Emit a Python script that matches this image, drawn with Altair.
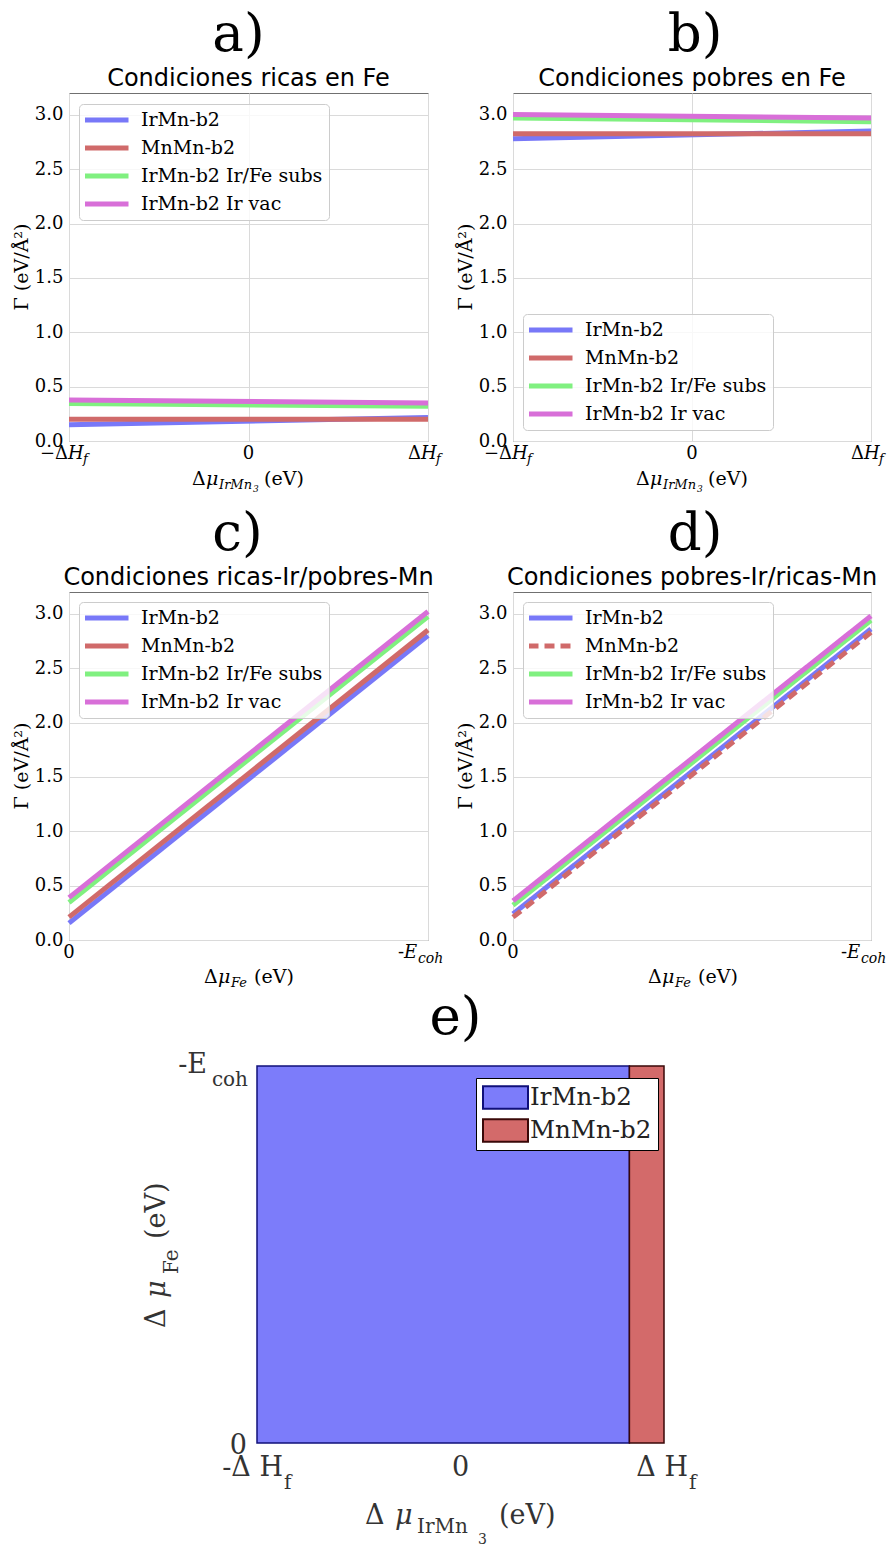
import altair as alt
import pandas as pd

SERIF = "DejaVu Serif"
SANS = "DejaVu Sans"

# ---------------- data ----------------
series = ["IrMn-b2", "MnMn-b2", "IrMn-b2 Ir/Fe subs", "IrMn-b2 Ir vac"]
line_colors = ["#7878f8", "#d06a6a", "#80f080", "#d86fd8"]
y_ticks = [0.0, 0.5, 1.0, 1.5, 2.0, 2.5, 3.0]

ab_x = [-1.0, 1.0]   # -ΔHf .. ΔHf
cd_x = [0.0, 1.0]    # 0 .. -Ecoh

a_left = [0.15, 0.20, 0.345, 0.378]
a_right = [0.215, 0.20, 0.32, 0.35]
b_left = [2.78, 2.826, 2.97, 3.003]
b_right = [2.85, 2.826, 2.936, 2.97]
c_left = [0.155, 0.21, 0.345, 0.39]
c_right = [2.80, 2.85, 2.975, 3.02]
d_left = [0.24, 0.21, 0.32, 0.36]
d_right = [2.86, 2.83, 2.94, 2.98]

phases = ["IrMn-b2", "MnMn-b2"]
phase_fill = ["#7c7cfa", "#d36a6a"]
phase_edge = ["#10107a", "#3a0808"]
phase_x_from = [-1.0, 0.83]
phase_x_to = [0.83, 1.0]
phase_y_from = [0.0, 0.0]
phase_y_to = [1.0, 1.0]

ONE = pd.DataFrame({"k": [0]})
W, H = 359, 348
EW, EH = 407, 377


def txt(text, x, y, size, font=SERIF, align="center", baseline="alphabetic",
        italic=False, angle=0, color="black", dx=0):
    mk = dict(text=text, font=font, fontSize=size, align=align, baseline=baseline,
              color=color, dx=dx)
    if italic:
        mk["fontStyle"] = "italic"
    if angle:
        mk["angle"] = angle
    return alt.Chart(ONE).mark_text(**mk).encode(x=x, y=y)


def line_panel(letter, letter_dx, title, xs, left, right, lx, ly, dashed, kind, width):
    rows = []
    for s, y0, y1 in zip(series, left, right):
        rows.append({"serie": s, "x": xs[0], "g": y0})
        rows.append({"serie": s, "x": xs[1], "g": y1})
    df = pd.DataFrame(rows)
    leg = alt.Legend(title=None, orient="none", legendX=lx, legendY=ly,
                     symbolType="stroke", symbolSize=1936, symbolStrokeWidth=5,
                     symbolOffset=-3, clipHeight=20, rowPadding=8, padding=6,
                     labelFont=SERIF, labelFontSize=19, labelColor="black",
                     labelOffset=10, labelLimit=400,
                     strokeColor="#cccccc", fillColor="rgba(255,255,255,0.8)",
                     cornerRadius=4)
    enc = dict(
        x=alt.X("x:Q", scale=alt.Scale(domain=xs, nice=False, zero=False),
                axis=alt.Axis(values=[xs[0], (xs[0] + xs[1]) / 2 if kind == "H" else xs[0], xs[1]],
                              labels=False, ticks=False, domain=False, title=None,
                              grid=True, gridColor="#dadada")),
        y=alt.Y("g:Q", scale=alt.Scale(domain=[0, 3.2], nice=False, zero=True),
                axis=alt.Axis(values=y_ticks, format=".1f", labelFont=SERIF,
                              labelFontSize=18, labelColor="black", ticks=False,
                              tickSize=0, labelPadding=6, domain=False, title=None,
                              grid=True, gridColor="#dadada")),
        color=alt.Color("serie:N", scale=alt.Scale(domain=series, range=line_colors),
                        sort=series, legend=leg),
    )
    if dashed:
        enc["strokeDash"] = alt.StrokeDash(
            "serie:N", sort=series,
            scale=alt.Scale(domain=series, range=[[1, 0], [10, 6], [1, 0], [1, 0]]),
            legend=leg)
    lines = alt.Chart(df).mark_line(strokeWidth=5, strokeCap="butt").encode(**enc)

    layers = [lines]
    layers.append(txt(letter, alt.value(width / 2), alt.value(-42), 53, dx=letter_dx))
    layers.append(txt(title, alt.value(width / 2), alt.value(-7), 24, font=SANS))
    layers.append(txt("Γ (eV/Å²)", alt.value(-47), alt.value(H / 2), 19,
                      baseline="middle", angle=270))
    ty = H + 18
    if kind == "H":
        layers += [
            txt("−Δ", alt.datum(xs[0]), alt.value(ty), 18, align="right", dx=-1),
            txt("H", alt.datum(xs[0]), alt.value(ty), 18, align="left", italic=True, dx=-1),
            txt("f", alt.datum(xs[0]), alt.value(ty + 4), 13, align="left", italic=True, dx=14),
            txt("0", alt.datum(0.0), alt.value(ty), 18),
            txt("Δ", alt.datum(xs[1]), alt.value(ty), 18, align="right", dx=-7),
            txt("H", alt.datum(xs[1]), alt.value(ty), 18, align="left", italic=True, dx=-7),
            txt("f", alt.datum(xs[1]), alt.value(ty + 4), 13, align="left", italic=True, dx=8),
            txt("Δ", alt.value(123), alt.value(H + 44), 19, align="left"),
            txt("μ", alt.value(137), alt.value(H + 44), 19, align="left", italic=True),
            txt("IrMn", alt.value(150), alt.value(H + 48), 13, align="left", italic=True),
            txt("3", alt.value(184), alt.value(H + 51), 9, align="left", italic=True),
            txt("(eV)", alt.value(195), alt.value(H + 44), 19, align="left"),
        ]
    else:
        layers += [
            txt("0", alt.datum(xs[0]), alt.value(ty), 18),
            txt("-", alt.datum(xs[1]), alt.value(ty), 18, align="right", dx=-24),
            txt("E", alt.datum(xs[1]), alt.value(ty), 18, align="left", italic=True, dx=-24),
            txt("coh", alt.datum(xs[1]), alt.value(ty + 5), 14, align="left", italic=True, dx=-10),
            txt("Δ", alt.value(135), alt.value(H + 43), 19, align="left"),
            txt("μ", alt.value(149), alt.value(H + 43), 19, align="left", italic=True),
            txt("Fe", alt.value(162), alt.value(H + 47), 13, align="left", italic=True),
            txt("(eV)", alt.value(185), alt.value(H + 43), 19, align="left"),
        ]
    return alt.layer(*layers).properties(width=width, height=H)


pa = line_panel("a)", -10, "Condiciones ricas en Fe", ab_x, a_left, a_right, 10, 11, False, "H", 359)
pb = line_panel("b)", 3, "Condiciones pobres en Fe", ab_x, b_left, b_right, 10, 221, False, "H", 358)
pc = line_panel("c)", -11, "Condiciones ricas-Ir/pobres-Mn", cd_x, c_left, c_right, 10, 10, False, "E", 359)
pd_ = line_panel("d)", 3, "Condiciones pobres-Ir/ricas-Mn", cd_x, d_left, d_right, 10, 10, True, "E", 358)

# ---------------- panel e ----------------
edf = pd.DataFrame({"fase": phases, "x0": phase_x_from, "x1": phase_x_to,
                    "y0": phase_y_from, "y1": phase_y_to})
eleg = alt.Legend(title=None, orient="none", legendX=219, legendY=12,
                  symbolType="M-1,-0.5H1V0.5H-1Z", symbolSize=2025, symbolStrokeWidth=2,
                  clipHeight=27, rowPadding=6, padding=6, labelFont=SERIF,
                  labelFontSize=24.5, labelColor="#222222", labelOffset=1,
                  strokeColor="black", fillColor="white", cornerRadius=0)
rects = alt.Chart(edf).mark_rect(strokeWidth=1.5).encode(
    x=alt.X("x0:Q", scale=alt.Scale(domain=[-1, 1], nice=False, zero=False), axis=None),
    x2="x1:Q",
    y=alt.Y("y0:Q", scale=alt.Scale(domain=[0, 1], nice=False), axis=None),
    y2="y1:Q",
    fill=alt.Fill("fase:N", scale=alt.Scale(domain=phases, range=phase_fill), legend=eleg),
    stroke=alt.Stroke("fase:N", scale=alt.Scale(domain=phases, range=phase_edge), legend=eleg),
)
EC = "#333333"
e_layers = [
    rects,
    txt("e)", alt.value(EW / 2), alt.value(-32), 53, dx=-5),
    txt("0", alt.value(-10), alt.value(EH + 11), 27, align="right", color=EC),
    txt("-E", alt.value(-50), alt.value(7), 27, align="right", color=EC),
    txt("coh", alt.value(-9), alt.value(20), 20, align="right", color=EC),
    txt("-Δ H", alt.datum(-1.0), alt.value(EH + 33), 27, align="right", dx=26, color=EC),
    txt("f", alt.datum(-1.0), alt.value(EH + 46), 20, align="left", dx=27, color=EC),
    txt("0", alt.datum(0.0), alt.value(EH + 33), 27, color=EC),
    txt("Δ H", alt.datum(1.0), alt.value(EH + 33), 27, align="right", dx=24, color=EC),
    txt("f", alt.datum(1.0), alt.value(EH + 46), 20, align="left", dx=25, color=EC),
    txt("Δ", alt.value(108), alt.value(EH + 81), 27, align="left", color=EC),
    txt("μ", alt.value(138), alt.value(EH + 81), 27, align="left", italic=True, color=EC),
    txt("IrMn", alt.value(160), alt.value(EH + 90), 20, align="left", color=EC),
    txt("3", alt.value(221), alt.value(EH + 101), 14, align="left", color=EC),
    txt("(eV)", alt.value(242), alt.value(EH + 81), 27, align="left", color=EC),
    txt("Δ", alt.value(-92), alt.value(262), 27, align="left", angle=270, color=EC),
    txt("μ", alt.value(-92), alt.value(232), 27, align="left", angle=270, italic=True, color=EC),
    txt("Fe", alt.value(-79), alt.value(208), 20, align="left", angle=270, color=EC),
    txt("(eV)", alt.value(-92), alt.value(173), 27, align="left", angle=270, color=EC),
]
pe = alt.layer(*e_layers).properties(width=EW, height=EH,
                                      view=alt.ViewBackground(stroke="transparent"))


def spacer(w, h):
    return alt.Chart(ONE).mark_point(opacity=0, size=0).encode(
        x=alt.value(w / 2), y=alt.value(h / 2)).properties(
        width=w, height=h, view=alt.ViewBackground(stroke="transparent"))


RES = dict(color="independent", strokeDash="independent", fill="independent",
           stroke="independent")

row1 = alt.hconcat(pa, pb, spacing=85, bounds="flush").resolve_scale(**RES).resolve_legend(**RES)
row2 = alt.hconcat(pc, pd_, spacing=85, bounds="flush").resolve_scale(**RES).resolve_legend(**RES)
row3 = alt.hconcat(spacer(1, EH), pe, spacing=187, bounds="flush").resolve_scale(**RES).resolve_legend(**RES)

chart = alt.vconcat(row1, spacer(1, 10), row2, row3,
                    spacing=0).resolve_scale(**RES).resolve_legend(**RES)
chart = chart.properties(
    padding={"left": 12, "top": 8, "right": 0, "bottom": 0}
).configure(background="white").configure_view(stroke="#707070")

chart.save("out.html", embed_options={"renderer": "svg", "actions": False})
